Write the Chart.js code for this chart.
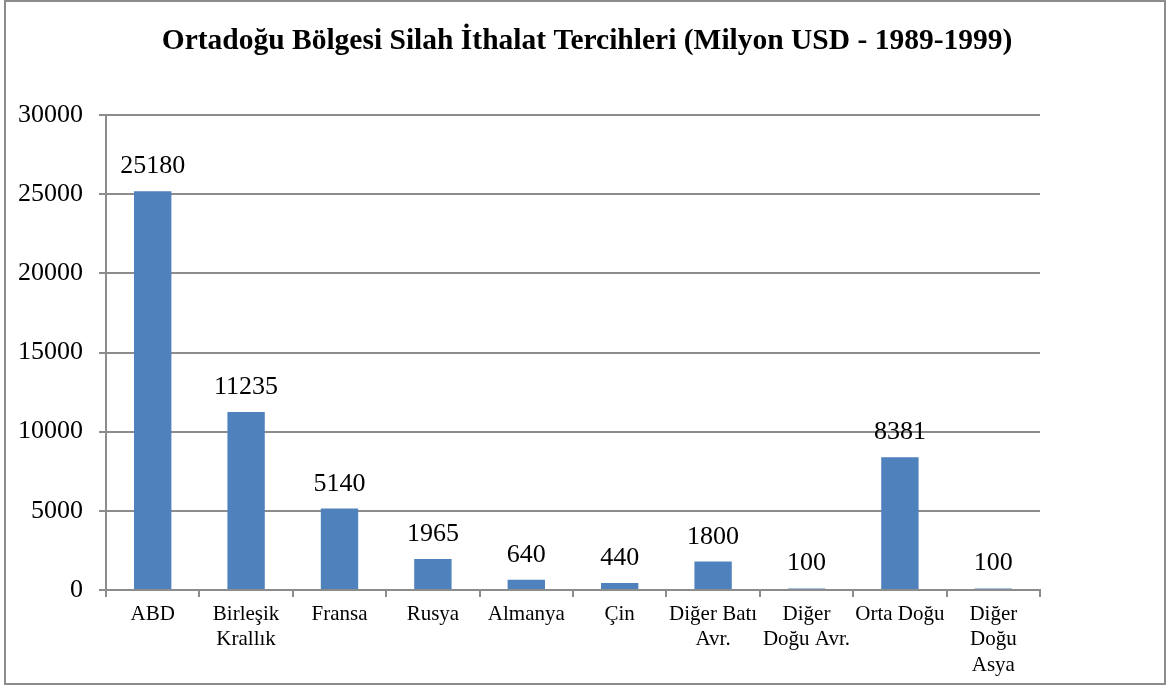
<!DOCTYPE html>
<html>
<head>
<meta charset="utf-8">
<script src="https://cdn.jsdelivr.net/npm/chart.js@4"></script>
<style>
  body { margin: 0; background: #fff; }
  #frame { position: absolute; left: 4px; top: 0px; width: 1162px; height: 685px; border: 2px solid #8c8c8c; box-sizing: border-box; }
  #wrap { position: absolute; left: 0; top: 0; width: 1173px; height: 688px; }
</style>
</head>
<body>
<div id="wrap"><canvas id="myChart" width="1173" height="688"></canvas></div>
<div id="frame"></div>
<script>
const chartTitle = "Ortadoğu Bölgesi Silah İthalat Tercihleri (Milyon USD - 1989-1999)";
const categories = [
  "ABD",
  ["Birleşik", "Krallık"],
  "Fransa",
  "Rusya",
  "Almanya",
  "Çin",
  ["Diğer Batı", "Avr."],
  ["Diğer", "Doğu Avr."],
  "Orta Doğu",
  ["Diğer", "Doğu", "Asya"]
];
const values = [25180, 11235, 5140, 1965, 640, 440, 1800, 100, 8381, 100];
const yTicks = [0, 5000, 10000, 15000, 20000, 25000, 30000];

const serif = "'Liberation Serif', 'Times New Roman', serif";
const axisGray = "#8c8c8c";

// title centred on the whole picture, not on the plot area
const pageTitle = {
  id: "pageTitle",
  afterDraw(chart) {
    const ctx = chart.ctx;
    ctx.save();
    ctx.font = "bold 29.5px " + serif;
    ctx.fillStyle = "#000";
    ctx.textAlign = "center";
    ctx.textBaseline = "middle";
    ctx.fillText(chartTitle, 587, 41);
    ctx.restore();
  }
};

const valueLabels = {
  id: "valueLabels",
  afterDatasetsDraw(chart) {
    const ctx = chart.ctx;
    const meta = chart.getDatasetMeta(0);
    ctx.save();
    ctx.font = "26px " + serif;
    ctx.fillStyle = "#000";
    ctx.textAlign = "center";
    ctx.textBaseline = "alphabetic";
    meta.data.forEach((bar, i) => {
      ctx.fillText(String(values[i]), bar.x, bar.y - 18);
    });
    ctx.restore();
  }
};

const chartCtx = document.getElementById("myChart").getContext("2d");
window.chart = new Chart(chartCtx, {
  type: "bar",
  data: {
    labels: categories,
    datasets: [
      {
        data: values,
        backgroundColor: "#4f81bd",
        barPercentage: 0.4,
        categoryPercentage: 1,
      },
    ],
  },
  options: {
    responsive: false,
    animation: false,
    layout: { padding: { left: 0, right: 133, top: 115, bottom: 0 } },
    plugins: {
      legend: { display: false },
      tooltip: { enabled: false },
      title: { display: false },
    },
    scales: {
      x: {
        grid: { drawOnChartArea: false, drawTicks: true, tickLength: 7, color: axisGray, lineWidth: 2 },
        border: { display: true, color: axisGray, width: 2 },
        ticks: {
          color: "#000",
          font: { family: serif, size: 21, lineHeight: 1.2 },
          padding: 5,
          maxRotation: 0,
          autoSkip: false,
        },
        afterFit(scale) { scale.height = 98; },
      },
      y: {
        min: 0,
        max: 30000,
        afterBuildTicks(scale) { scale.ticks = yTicks.map(v => ({ value: v })); },
        grid: { color: axisGray, lineWidth: 2, tickLength: 7 },
        border: { display: true, color: axisGray, width: 2 },
        ticks: {
          color: "#000",
          font: { family: serif, size: 26 },
          padding: 16,
          callback: (v) => String(v),
        },
        afterFit(scale) { scale.width = 106; },
      },
    },
  },
  plugins: [valueLabels, pageTitle],
});
</script>
</body>
</html>
